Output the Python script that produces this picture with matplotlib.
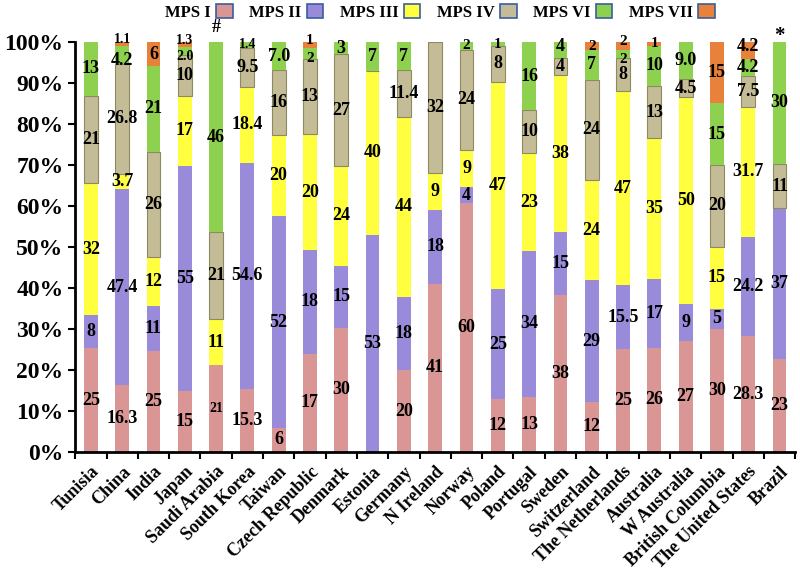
import numpy as np
import matplotlib
matplotlib.use("Agg")
import matplotlib.pyplot as plt
from matplotlib.patches import Patch

countries = ["Tunisia", "China", "India", "Japan", "Saudi Arabia", "South Korea",
             "Taiwan", "Czech Republic", "Denmark", "Estonia", "Germany", "N Ireland",
             "Norway", "Poland", "Portugal", "Sweden", "Switzerland", "The Netherlands",
             "Australia", "W Australia", "British Columbia", "The United States", "Brazil"]

mps_i = [25, 16.3, 25, 15, 21, 15.3, 6, 17, 30, 0, 20, 41, 60, 12, 13, 38, 12, 25, 26, 27, 30, 28.3, 23]
mps_ii = [8, 47.4, 11, 55, 0, 54.6, 52, 18, 15, 53, 18, 18, 4, 25, 34, 15, 29, 15.5, 17, 9, 5, 24.2, 37]
mps_iii = [32, 3.7, 12, 17, 11, 18.4, 20, 20, 24, 40, 44, 9, 9, 47, 23, 38, 24, 47, 35, 50, 15, 31.7, 0]
mps_iv = [21, 26.8, 26, 10, 21, 9.5, 16, 13, 27, 0, 11.4, 32, 24, 8, 10, 4, 24, 8, 13, 4.5, 20, 7.5, 11]
mps_vi = [13, 4.2, 21, 2.0, 46, 1.4, 7.0, 2, 3, 7, 7, 0, 2, 1, 16, 4, 7, 2, 10, 9.0, 15, 4.2, 30]
mps_vii = [0, 1.1, 6, 1.3, 0, 0, 0, 1, 0, 0, 0, 0, 0, 0, 0, 0, 2, 2, 1, 0, 15, 4.2, 0]

series_names = ["MPS I", "MPS II", "MPS III", "MPS IV", "MPS VI", "MPS VII"]
colors = ["#D99694", "#9A8BDA", "#FFFF40", "#C4BC96", "#8ED14F", "#E8823A"]

# labels printed with one decimal even though they are whole numbers
# (series index, country index)
decimal_labels = {(4, 3), (4, 6), (4, 19)}

SERIF = "Liberation Serif"


def plot():
    series = [mps_i, mps_ii, mps_iii, mps_iv, mps_vi, mps_vii]
    data = np.array(series, dtype=float)
    totals = data.sum(axis=0)
    pct = data / totals * 100

    fig = plt.figure(figsize=(8, 5.73), dpi=100)
    ax = fig.add_axes([0.094, 0.211, 0.90, 0.716])
    x = np.arange(len(countries))
    bottom = np.zeros(len(countries))
    for k in range(len(series)):
        edge = "#8C8A5E" if k == 3 else "none"
        ax.bar(x, pct[k], 0.44, bottom=bottom, color=colors[k],
               edgecolor=edge, linewidth=0.8)
        for i in range(len(countries)):
            v = data[k, i]
            if v == 0:
                continue
            if v.is_integer() and (k, i) not in decimal_labels:
                label = str(int(v))
            else:
                label = f"{v:.1f}"
            size = 13
            if v < 2.5:
                size = 10 if "." in label else 11
            if i == 4 and k == 0:
                size = 10
            # nudge labels of thin neighbouring segments apart
            y = bottom[i] + pct[k, i] / 2
            if pct[k, i] < 5:
                if k + 1 < len(series) and 0 < pct[k + 1, i] < 3:
                    y -= 1.3
                if k > 0 and 0 < pct[k - 1, i] < 5:
                    y += 1.0
            ax.text(i, y, label, ha="center", va="center",
                    fontsize=size, fontweight="bold", family=SERIF)
        bottom += pct[k]

    ax.set_xlim(-0.5, len(countries) - 0.5)
    ax.set_ylim(0, 100)
    ax.set_yticks(np.arange(0, 101, 10))
    ax.set_yticklabels([f"{t}%" for t in range(0, 101, 10)], fontsize=17,
                       fontweight="bold", family=SERIF)
    ax.set_xticks(x)
    ax.set_xticklabels(countries, rotation=45, ha="right", rotation_mode="anchor",
                       fontsize=13, fontweight="bold", family=SERIF)
    ax.set_xticks(np.arange(-0.5, len(countries)), minor=True)
    ax.tick_params(axis="x", which="major", length=0, pad=8)
    ax.tick_params(axis="x", which="minor", length=5, width=1.5)
    ax.tick_params(axis="y", length=5, width=1.5)
    for side in ["top", "right"]:
        ax.spines[side].set_visible(False)
    for side in ["left", "bottom"]:
        ax.spines[side].set_linewidth(2)

    ax.text(4, 103.5, "#", ha="center", va="center", fontsize=13,
            fontweight="bold", family=SERIF, clip_on=False)
    ax.text(22, 101.5, "*", ha="center", va="center", fontsize=15,
            fontweight="bold", family=SERIF, clip_on=False)

    handles = [Patch(facecolor=c, edgecolor="#3A5DA0", linewidth=1.2) for c in colors]
    fig.legend(handles, series_names, loc="upper center", bbox_to_anchor=(0.55, 1.02),
               ncol=6, frameon=False, markerfirst=False, handlelength=1.0,
               handleheight=1.0, handletextpad=0.3, columnspacing=1.0,
               prop={"family": SERIF, "weight": "bold", "size": 12})

    fig.savefig("out.png", dpi=100)


def main():
    plot()


if __name__ == "__main__":
    main()
